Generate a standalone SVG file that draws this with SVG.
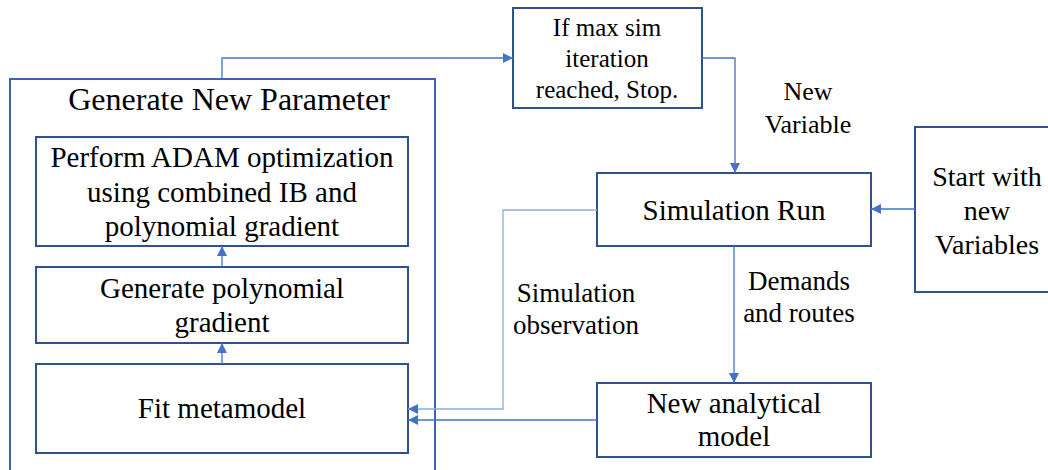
<svg xmlns="http://www.w3.org/2000/svg" width="1048" height="470" viewBox="0 0 1048 470">
<defs>
<style>
.box{fill:#fff;stroke:#2F528F;stroke-width:2}
.outer{fill:none;stroke:#3B64AD;stroke-width:2}
.t{font-family:"Liberation Serif","Times New Roman",serif;fill:#000;text-anchor:middle}
.c{fill:none;stroke:#4472C4;stroke-width:1.3}
.cl{fill:none;stroke:#8FAADC;stroke-width:1.3}
</style>
<marker id="ah" viewBox="0 0 10 10" refX="10" refY="5" markerWidth="10" markerHeight="10" markerUnits="userSpaceOnUse" orient="auto">
<path d="M0,0 L10,5 L0,10 Z" fill="#4472C4"/>
</marker>
</defs>
<rect width="1048" height="470" fill="#fff"/>
<g id="generate-new-parameter">
<rect class="outer" x="10" y="79" width="425" height="400"/>
<text class="t" x="229" y="110" font-size="32">Generate New Parameter</text>
</g>
<g id="adam">
<rect class="box" x="36" y="137" width="372" height="109"/>
<text class="t" x="222" y="167" font-size="29">Perform ADAM optimization</text>
<text class="t" x="222" y="202" font-size="29">using combined IB and</text>
<text class="t" x="222" y="236" font-size="29">polynomial gradient</text>
</g>
<g id="poly">
<rect class="box" x="36" y="267" width="372" height="76"/>
<text class="t" x="222" y="298" font-size="29">Generate polynomial</text>
<text class="t" x="222" y="332" font-size="29">gradient</text>
</g>
<g id="fit">
<rect class="box" x="36" y="364" width="372" height="89"/>
<text class="t" x="222" y="418" font-size="29">Fit metamodel</text>
</g>
<g id="ifmax">
<rect class="box" x="513" y="8" width="189" height="100"/>
<text class="t" x="607" y="36" font-size="25">If max sim</text>
<text class="t" x="607" y="67" font-size="25">iteration</text>
<text class="t" x="607" y="98" font-size="25">reached, Stop.</text>
</g>
<g id="simrun">
<rect class="box" x="597" y="173" width="274" height="73"/>
<text class="t" x="734" y="220" font-size="29">Simulation Run</text>
</g>
<g id="start">
<rect class="box" x="915" y="127" width="140" height="165"/>
<text class="t" x="987" y="186" font-size="28">Start with</text>
<text class="t" x="987" y="220" font-size="28">new</text>
<text class="t" x="987" y="254" font-size="28">Variables</text>
</g>
<g id="analytical">
<rect class="box" x="597" y="383" width="274" height="74"/>
<text class="t" x="734" y="413" font-size="29">New analytical</text>
<text class="t" x="734" y="446" font-size="29">model</text>
</g>
<g id="connectors">
<path class="c" d="M222,79 V58 H513" marker-end="url(#ah)"/>
<path class="c" d="M702,58 H735 V173" marker-end="url(#ah)"/>
<path class="c" d="M915,209 H871" marker-end="url(#ah)"/>
<path class="c" d="M734,246 V383" marker-end="url(#ah)"/>
<path class="cl" d="M597,210 H503 V409 H408" marker-end="url(#ah)"/>
<path class="c" d="M597,420 H408" marker-end="url(#ah)"/>
<path class="c" d="M222,267 V246" marker-end="url(#ah)"/>
<path class="c" d="M222,364 V343" marker-end="url(#ah)"/>
</g>
<g id="labels">
<text class="t" x="808" y="100" font-size="26">New</text>
<text class="t" x="808" y="133" font-size="26">Variable</text>
<text class="t" x="576" y="302" font-size="27">Simulation</text>
<text class="t" x="576" y="334" font-size="27">observation</text>
<text class="t" x="799" y="290" font-size="27">Demands</text>
<text class="t" x="799" y="322" font-size="27">and routes</text>
</g>
</svg>
